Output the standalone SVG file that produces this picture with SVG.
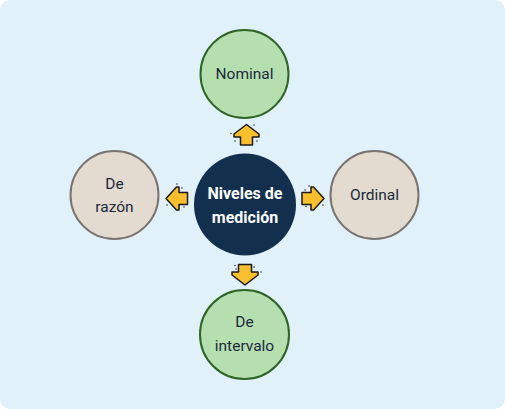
<svg xmlns="http://www.w3.org/2000/svg" width="505" height="409" viewBox="0 0 505 409">
<style>
.bg{fill:#e1f1f9}
.green{fill:#b6dfb0;stroke:#2e6424;stroke-width:2}
.beige{fill:#e3dbcf;stroke:#7a7470;stroke-width:2}
.center{fill:#12304e}
.lbl{font-family:Roboto,"Liberation Sans",sans-serif;font-size:15.5px;fill:#1a2a3c;text-anchor:middle;dominant-baseline:central}
.clbl{font-family:Roboto,"Liberation Sans",sans-serif;font-size:16px;font-weight:bold;fill:#ffffff;text-anchor:middle;dominant-baseline:central}
.arrow{fill:#fbbf2c;stroke:#1a1a1a;stroke-width:1.5;stroke-linejoin:round}
.dot{fill:#333333}
</style>
<rect x="0" y="0" width="505" height="409" fill="#ffffff"/>
<rect class="bg" x="0" y="0" width="505" height="409" rx="10" ry="10"/>
<g id="connectors">
<g id="arrow-up">
<polygon class="arrow" points="246.5,124.5 259,134 259,137 252.5,137 252.5,145 240.5,145 240.5,137 234,137 234,134"/>
<circle class="dot" cx="231" cy="133.5" r="0.8"/><circle class="dot" cx="235" cy="141" r="0.8"/><circle class="dot" cx="254" cy="125" r="0.8"/><circle class="dot" cx="257" cy="141" r="0.8"/>
</g>
<g id="arrow-right">
<polygon class="arrow" points="324,198.5 313.5,210 311,210 311,204.5 302,204.5 302,192.5 311,192.5 311,187 313.5,187"/>
<circle class="dot" cx="309" cy="186" r="0.8"/><circle class="dot" cx="305" cy="190" r="0.8"/><circle class="dot" cx="306" cy="206.5" r="0.8"/><circle class="dot" cx="323" cy="205" r="0.8"/>
</g>
<g id="arrow-down">
<polygon class="arrow" points="245,285 232,275 232,272 238.5,272 238.5,264.5 251.5,264.5 251.5,272 258,272 258,275"/>
<circle class="dot" cx="235" cy="265.5" r="0.8"/><circle class="dot" cx="236" cy="269" r="0.8"/><circle class="dot" cx="254" cy="267" r="0.8"/><circle class="dot" cx="261" cy="272" r="0.8"/>
</g>
<g id="arrow-left">
<polygon class="arrow" points="166,198.5 176.5,187 179,187 179,192.5 187.5,192.5 187.5,204.5 179,204.5 179,210 176.5,210"/>
<circle class="dot" cx="177" cy="184" r="0.8"/><circle class="dot" cx="182" cy="188" r="0.8"/><circle class="dot" cx="167" cy="205" r="0.8"/><circle class="dot" cx="184" cy="207" r="0.8"/>
</g>
</g>
<g id="node-center">
<circle class="center" cx="245" cy="204.5" r="51"/>
<text class="clbl" x="245" y="193">Niveles de</text>
<text class="clbl" x="245" y="217">medición</text>
</g>
<g id="node-nominal">
<circle class="green" cx="244.5" cy="74" r="44"/>
<text class="lbl" x="244.5" y="73.5">Nominal</text>
</g>
<g id="node-ordinal">
<circle class="beige" cx="374.5" cy="195" r="44"/>
<text class="lbl" x="374.5" y="195">Ordinal</text>
</g>
<g id="node-razon">
<circle class="beige" cx="114.5" cy="195" r="44"/>
<text class="lbl" x="114.5" y="183.5">De</text>
<text class="lbl" x="114.5" y="207">razón</text>
</g>
<g id="node-intervalo">
<circle class="green" cx="244.5" cy="334.5" r="44.5"/>
<text class="lbl" x="244.5" y="322">De</text>
<text class="lbl" x="244.5" y="345.5">intervalo</text>
</g>
</svg>
